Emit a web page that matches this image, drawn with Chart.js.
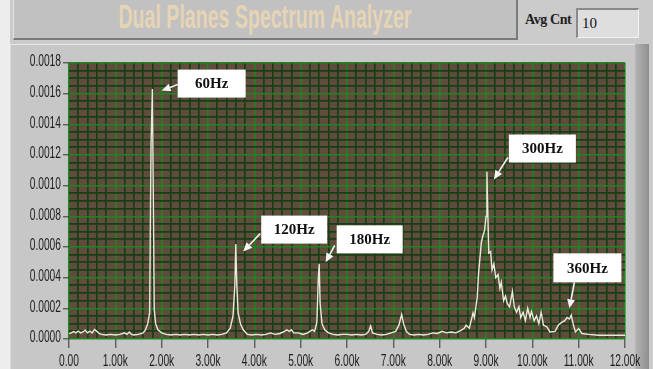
<!DOCTYPE html>
<html><head><meta charset="utf-8">
<script src="https://cdn.jsdelivr.net/npm/chart.js@4.4.1/dist/chart.umd.min.js"></script>
<style>
html,body{margin:0;padding:0;background:#ececec;}
#wrap{position:relative;width:653px;height:369px;overflow:hidden;background:#cbcbcb;}
#leftStrip{position:absolute;left:0;top:0;width:10px;height:369px;background:#ededed;}
#titleBox{position:absolute;left:13px;top:-2px;width:502px;height:40px;background:#c1c1c1;border-right:2px solid #7a7a7a;border-bottom:2px solid #7a7a7a;border-left:1px solid #e4e4e4;}
#titleText{position:absolute;left:0;top:0px;width:100%;text-align:center;white-space:nowrap;}
#titleText span{display:inline-block;font:bold 33px "Liberation Sans",sans-serif;color:#e6d4b4;transform-origin:50% 50%;}
#avgLbl{position:absolute;left:525px;top:12px;font:bold 14px "Liberation Serif","Times New Roman",serif;color:#222;letter-spacing:-0.4px;}
#avgBox{position:absolute;left:576px;top:8px;width:56px;height:27px;background:#dedede;border-top:2px solid #8a8a8a;border-left:2px solid #8a8a8a;border-right:1px solid #f2f2f2;border-bottom:1px solid #f2f2f2;font:15px "Liberation Serif","Times New Roman",serif;color:#111;line-height:27px;padding-left:4px;box-sizing:content-box;}
#panel{position:absolute;left:10px;top:44px;width:624px;height:330px;background:#c7c7c7;border-top:1px solid #e6e6e6;border-left:1px solid #dcdcdc;}
#rightBar{position:absolute;left:635px;top:44px;width:14px;height:330px;background:linear-gradient(to right,#b4b4b4,#8f8f8f);}
canvas{position:absolute;left:0;top:0;}
</style></head>
<body>
<div id="wrap">
  <div id="leftStrip"></div>
  <div id="titleBox"><div id="titleText"><span id="tt">Dual Planes Spectrum Analyzer</span></div></div>
  <div id="avgLbl">Avg Cnt</div>
  <div id="avgBox">10</div>
  <div id="panel"></div>
  <div id="rightBar"></div>
  <canvas id="c" width="653" height="369"></canvas>
</div>
<script>
// ---------- data ----------
const freqHz = [
  0,50,100,150,200,250,300,350,400,450,500,550,600,650,700,800,900,1000,1100,1200,1250,1300,1350,1400,1500,1600,1650,1700,1740,1770,1800,1820,1840,1870,1920,
  2000,2100,2200,2300,2400,2500,2600,2700,2800,2900,3000,3100,3200,3300,3400,3480,3540,3580,3600,3620,3650,3700,3760,3850,3950,
  4050,4150,4250,4350,4450,4550,4650,4700,4750,4800,4850,4950,5050,5150,5250,5300,5350,5380,5400,5420,5460,5520,5600,5700,5800,5900,
  6000,6100,6200,6300,6400,6470,6510,6550,6650,6750,6850,6950,7050,7120,7180,7220,7280,7350,7450,7550,7650,7750,7850,7950,
  8050,8150,8250,8350,8460,8530,8570,8640,8720,8750,8810,8840,8900,8930,8970,9000,9020,9040,9060,9100,9130,9170,9210,9260,9300,9330,9380,9420,9460,9510,9570,9610,9660,9710,9750,9800,9850,9900,9950,9980,
  10040,10090,10140,10190,10240,10310,10380,10490,10560,10640,10700,10750,10800,10840,10880,10930,11000,11070,11220,11430,11600,11800,12000
];
const amplitude = [
  0.000035,0.00004,0.000048,0.00004,0.000052,0.00004,0.000046,0.000058,0.00004,0.000052,0.00004,0.000062,0.00005,0.000036,0.00003,0.000026,0.00003,0.000026,0.00003,0.00004,0.00003,0.000046,0.00003,0.000026,0.00003,0.00004,0.00006,0.0001,0.00017,0.00126,0.00163,0.00091,0.00019,0.0001,0.00006,
  0.00004,0.00003,0.000026,0.00003,0.000026,0.00003,0.000026,0.00003,0.000026,0.00003,0.000026,0.00003,0.000026,0.00003,0.00004,0.00007,0.00015,0.00035,0.00062,0.00037,0.00017,0.0001,0.00006,0.00003,0.000026,
  0.00003,0.000026,0.00003,0.00004,0.00003,0.000036,0.00005,0.00006,0.00005,0.00006,0.00004,0.00004,0.00003,0.00004,0.00006,0.00005,0.00011,0.00039,0.00049,0.00023,0.0001,0.00006,0.00004,0.00003,0.000026,0.00003,
  0.00003,0.000026,0.00003,0.000026,0.00003,0.00005,0.000085,0.00004,0.00003,0.000026,0.00003,0.00004,0.00005,0.00009,0.00016,0.0001,0.00005,0.00003,0.000026,0.00003,0.000026,0.00003,0.00004,0.000036,
  0.00005,0.00004,0.000046,0.00004,0.000056,0.00007,0.00009,0.00007,0.00017,0.00014,0.00027,0.00043,0.00063,0.00067,0.00071,0.0008,0.00109,0.00081,0.00056,0.00057,0.00045,0.00049,0.0004,0.00042,0.00033,0.00037,0.00025,0.00028,0.00023,0.00021,0.00031,0.00021,0.000175,0.00021,0.00014,0.000175,0.00012,0.0002,0.00014,0.00018,
  0.00012,0.00015,0.0001,0.000175,0.00009,0.00008,0.000046,0.00005,0.00009,0.00011,0.00012,0.00014,0.00013,0.000155,0.0001,0.000046,0.000068,0.000036,0.00003,0.000024,0.000024,0.000024,0.000024
];
const yMajorTicks = [0,0.0002,0.0004,0.0006,0.0008,0.0010,0.0012,0.0014,0.0016,0.0018];
const yTickLabels = ['0.0000','0.0002','0.0004','0.0006','0.0008','0.0010','0.0012','0.0014','0.0016','0.0018'];
const xMajorTicks = [0,1000,2000,3000,4000,5000,6000,7000,8000,9000,10000,11000,12000];
const xTickLabels = ['0.00','1.00k','2.00k','3.00k','4.00k','5.00k','6.00k','7.00k','8.00k','9.00k','10.00k','11.00k','12.00k'];
const peakLabels = ['60Hz','120Hz','180Hz','300Hz','360Hz'];
const peakTipHz = [2000,3760,5540,9170,10800];
const peakTipAmp = [0.00162,0.00057,0.0005,0.00104,0.0002];

// ---------- layout / style (not data) ----------
const calloutLayout = [
  {bx:16,by:-21,w:68,h:28,tx:16,ty:-6},
  {bx:18,by:-36,w:66,h:28,tx:17,ty:-18},
  {bx:11,by:-37,w:66,h:28,tx:9,ty:-17},
  {bx:15,by:-45,w:67,h:28,tx:14,ty:-22},
  {bx:-16,by:-55,w:68,h:29,tx:5,ty:-26}
];
const C = {plotBg:'#5f4c3c', minor:'#173f15', major:'#208420', line:'#ebe8dc', text:'#1e1e1e'};
const labelFont = '16px "Liberation Sans", Arial, sans-serif';
const labelSqueeze = 0.64;

const xMinorStep = 200;
const near = (a,b,eps)=>Math.abs(a-b)<eps;
const isXMajor = v => xMajorTicks.some(m=>near(m,v,1));
const isYMajor = v => yMajorTicks.some(m=>near(m,v,1e-9));

const bgPlugin = {
  id:'plotBg',
  beforeDraw(chart){
    const {ctx, chartArea:a} = chart;
    ctx.save(); ctx.fillStyle = C.plotBg;
    ctx.fillRect(a.left, a.top, a.right-a.left, a.bottom-a.top);
    ctx.restore();
  }
};

// narrow (condensed) tick labels like the LabVIEW graph
const labelPlugin = {
  id:'narrowLabels',
  afterDraw(chart){
    const ctx = chart.ctx, xs = chart.scales.x, ys = chart.scales.y;
    ctx.save();
    ctx.fillStyle = C.text; ctx.font = labelFont;
    ctx.textAlign = 'right'; ctx.textBaseline = 'middle';
    yMajorTicks.forEach((v,i)=>{
      ctx.save(); ctx.translate(ys.right - 8, ys.getPixelForValue(v) - 1); ctx.scale(labelSqueeze,1);
      ctx.fillText(yTickLabels[i], 0, 0); ctx.restore();
    });
    ctx.textAlign = 'center'; ctx.textBaseline = 'alphabetic';
    xMajorTicks.forEach((v,i)=>{
      ctx.save(); ctx.translate(xs.getPixelForValue(v), xs.top + 27); ctx.scale(labelSqueeze,1);
      ctx.fillText(xTickLabels[i], 0, 0); ctx.restore();
    });
    ctx.restore();
  }
};

const calloutPlugin = {
  id:'callouts',
  afterDatasetsDraw(chart){
    const ctx = chart.ctx, xs = chart.scales.x, ys = chart.scales.y;
    ctx.save();
    peakLabels.forEach((lbl,i)=>{
      const L = calloutLayout[i];
      const px = xs.getPixelForValue(peakTipHz[i]);
      const py = ys.getPixelForValue(peakTipAmp[i]);
      const tx = px + L.tx, ty = py + L.ty;
      const ang = Math.atan2(py-ty, px-tx);
      const headLen = 9, headW = 4;
      const bx0 = px - Math.cos(ang)*headLen, by0 = py - Math.sin(ang)*headLen;
      ctx.strokeStyle = '#f4f4f4'; ctx.lineWidth = 1.6;
      ctx.beginPath(); ctx.moveTo(tx,ty); ctx.lineTo(bx0,by0); ctx.stroke();
      ctx.fillStyle = '#f4f4f4';
      ctx.beginPath();
      ctx.moveTo(px,py);
      ctx.lineTo(bx0 + Math.sin(ang)*headW, by0 - Math.cos(ang)*headW);
      ctx.lineTo(bx0 - Math.sin(ang)*headW, by0 + Math.cos(ang)*headW);
      ctx.closePath(); ctx.fill();
      const bx = px + L.bx, by = py + L.by;
      ctx.fillStyle = '#ffffff';
      ctx.fillRect(bx, by, L.w, L.h);
      ctx.fillStyle = '#111';
      ctx.font = 'bold 15px "Liberation Serif","Times New Roman",serif';
      ctx.textAlign = 'center'; ctx.textBaseline = 'middle';
      ctx.fillText(lbl, bx + L.w/2, by + L.h/2 + 1);
    });
    ctx.restore();
  }
};

const points = freqHz.map((f,i)=>({x:f, y:amplitude[i]}));

new Chart(document.getElementById('c').getContext('2d'), {
  type:'line',
  data:{datasets:[{data:points, borderColor:C.line, borderWidth:1.4, pointRadius:0, tension:0, fill:false}]},
  options:{
    responsive:false, animation:false, events:[],
    layout:{padding:{left:0, top:63, right:28, bottom:0}},
    plugins:{legend:{display:false}, tooltip:{enabled:false}, title:{display:false}},
    scales:{
      x:{
        type:'linear', min:0, max:12000,
        afterFit(s){ s.height = 30; },
        afterBuildTicks(s){
          const t=[]; for(let v=0; v<=12000; v+=xMinorStep) t.push({value:v}); s.ticks=t;
        },
        ticks:{display:false, autoSkip:false},
        grid:{
          color:c=> (c.tick && isXMajor(c.tick.value)) ? C.major : C.minor,
          lineWidth:c=> (c.tick && isXMajor(c.tick.value)) ? 1.6 : 1.7,
          tickColor:c=> (c.tick && isXMajor(c.tick.value)) ? '#333' : 'rgba(0,0,0,0)',
          tickLength:9, tickWidth:1
        },
        border:{display:false}
      },
      y:{
        type:'linear', min:0, max:0.0018,
        afterFit(s){ s.width = 69; },
        afterBuildTicks(s){
          const t=[]; for(let k=0; k<=36; k++) t.push({value:Math.round(k*5)/100000}); s.ticks=t;
        },
        ticks:{display:false, autoSkip:false},
        grid:{
          color:c=> (c.tick && isYMajor(c.tick.value)) ? C.major : C.minor,
          lineWidth:c=> (c.tick && isYMajor(c.tick.value)) ? 1.6 : 1.7,
          tickColor:c=> (c.tick && isYMajor(c.tick.value)) ? '#333' : 'rgba(0,0,0,0)',
          tickLength:6, tickWidth:1
        },
        border:{display:false}
      }
    }
  },
  plugins:[bgPlugin, calloutPlugin, labelPlugin]
});

(function(){
  const el = document.getElementById('tt');
  const w = el.getBoundingClientRect().width;
  if (w > 0) el.style.transform = 'scaleX(' + (293 / w) + ')';
})();
</script>
</body></html>
